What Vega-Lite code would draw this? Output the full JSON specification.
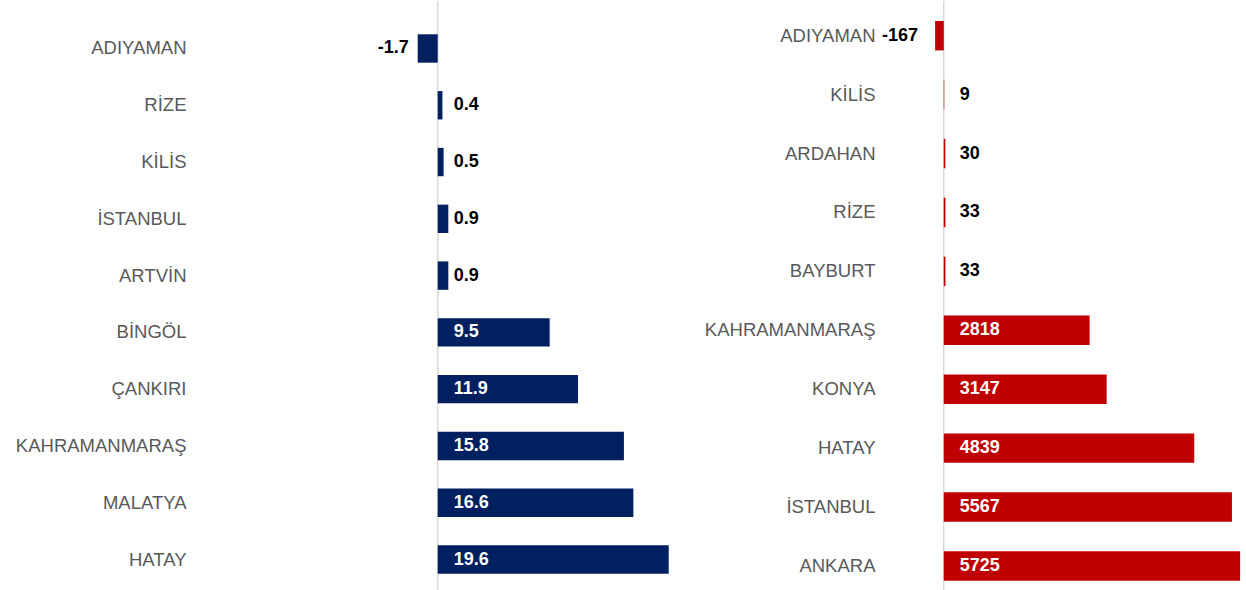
{
  "$schema": "https://vega.github.io/schema/vega-lite/v6.json",
  "background": "white",
  "padding": {"left": 15, "top": 0, "right": 0, "bottom": 0},
  "bounds": "flush",
  "spacing": 195,
  "config": {"view": {"stroke": null}, "font": "Liberation Sans"},
  "datasets": {
    "left": [
      {"city": "ADIYAMAN", "value": -1.7},
      {"city": "RİZE", "value": 0.4},
      {"city": "KİLİS", "value": 0.5},
      {"city": "İSTANBUL", "value": 0.9},
      {"city": "ARTVİN", "value": 0.9},
      {"city": "BİNGÖL", "value": 9.5},
      {"city": "ÇANKIRI", "value": 11.9},
      {"city": "KAHRAMANMARAŞ", "value": 15.8},
      {"city": "MALATYA", "value": 16.6},
      {"city": "HATAY", "value": 19.6}
    ],
    "right": [
      {"city": "ADIYAMAN", "value": -167},
      {"city": "KİLİS", "value": 9},
      {"city": "ARDAHAN", "value": 30},
      {"city": "RİZE", "value": 33},
      {"city": "BAYBURT", "value": 33},
      {"city": "KAHRAMANMARAŞ", "value": 2818},
      {"city": "KONYA", "value": 3147},
      {"city": "HATAY", "value": 4839},
      {"city": "İSTANBUL", "value": 5567},
      {"city": "ANKARA", "value": 5725}
    ],
    "zero": [{"z": 0}]
  },
  "hconcat": [
    {
      "width": 495,
      "height": 590,
      "layer": [
        {
          "data": {"name": "zero"},
          "mark": {"type": "rule", "color": "#D9D9D9", "strokeWidth": 1.5},
          "encoding": {"x": {"field": "z", "type": "quantitative", "scale": {"domain": [-20, 22], "nice": false, "zero": false}, "axis": null}}
        },
        {
          "data": {"name": "left"},
          "mark": {"type": "bar", "color": "#002060"},
          "encoding": {
            "x": {"field": "value", "type": "quantitative", "axis": null},
            "y": {"field": "city", "type": "nominal", "sort": null,
              "scale": {"paddingInner": 0.5, "paddingOuter": 0.4455, "align": 0.658},
              "axis": {"title": null, "domain": false, "ticks": false, "tickSize": 0, "grid": false, "labelPadding": 16, "labelFont": "Liberation Sans", "labelFontSize": 18.5, "labelColor": "#595959", "labelLimit": 400}}
          }
        },
        {
          "data": {"name": "left"},
          "transform": [{"filter": "datum.value > 0"}],
          "mark": {"type": "text", "align": "left", "baseline": "middle", "dx": 16, "fontWeight": "bold", "fontSize": 18, "font": "Liberation Sans"},
          "encoding": {
            "x": {"datum": 0, "type": "quantitative"},
            "y": {"field": "city", "type": "nominal", "sort": null},
            "text": {"field": "value", "type": "nominal"},
            "color": {"condition": {"test": "datum.value > 5", "value": "#FFFFFF"}, "value": "#000000"}
          }
        },
        {
          "data": {"name": "left"},
          "transform": [{"filter": "datum.value < 0"}],
          "mark": {"type": "text", "align": "right", "baseline": "middle", "dx": -9, "fontWeight": "bold", "fontSize": 18, "font": "Liberation Sans", "color": "#000000"},
          "encoding": {
            "x": {"field": "value", "type": "quantitative"},
            "y": {"field": "city", "type": "nominal", "sort": null},
            "text": {"field": "value", "type": "nominal"}
          }
        }
      ]
    },
    {
      "width": 352,
      "height": 590,
      "layer": [
        {
          "data": {"name": "zero"},
          "mark": {"type": "rule", "color": "#D9D9D9", "strokeWidth": 1.5},
          "encoding": {"x": {"field": "z", "type": "quantitative", "scale": {"domain": [-1000, 5800], "nice": false, "zero": false}, "axis": null}}
        },
        {
          "data": {"name": "right"},
          "mark": {"type": "bar", "color": "#C00000"},
          "encoding": {
            "x": {"field": "value", "type": "quantitative", "axis": null},
            "y": {"field": "city", "type": "nominal", "sort": null,
              "scale": {"paddingInner": 0.5, "paddingOuter": 0.257, "align": 0.659},
              "axis": {"title": null, "domain": false, "ticks": false, "tickSize": 0, "grid": false, "labelPadding": 17, "labelFont": "Liberation Sans", "labelFontSize": 18.5, "labelColor": "#595959", "labelLimit": 400}}
          }
        },
        {
          "data": {"name": "right"},
          "transform": [{"filter": "datum.value > 0"}],
          "mark": {"type": "text", "align": "left", "baseline": "middle", "dx": 16, "fontWeight": "bold", "fontSize": 18, "font": "Liberation Sans"},
          "encoding": {
            "x": {"datum": 0, "type": "quantitative"},
            "y": {"field": "city", "type": "nominal", "sort": null},
            "text": {"field": "value", "type": "nominal"},
            "color": {"condition": {"test": "datum.value > 1000", "value": "#FFFFFF"}, "value": "#000000"}
          }
        },
        {
          "data": {"name": "right"},
          "transform": [{"filter": "datum.value < 0"}],
          "mark": {"type": "text", "align": "right", "baseline": "middle", "dx": -17, "fontWeight": "bold", "fontSize": 18, "font": "Liberation Sans", "color": "#000000"},
          "encoding": {
            "x": {"field": "value", "type": "quantitative"},
            "y": {"field": "city", "type": "nominal", "sort": null},
            "text": {"field": "value", "type": "nominal"}
          }
        }
      ]
    }
  ]
}
